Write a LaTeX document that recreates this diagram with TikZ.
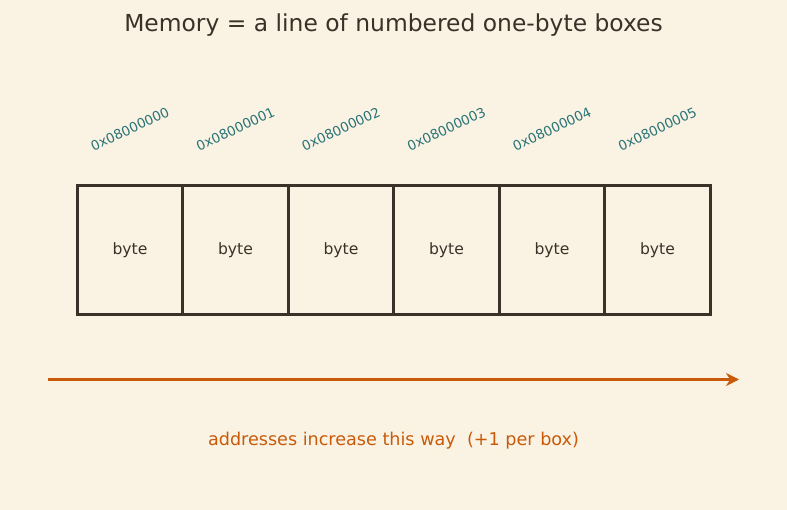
\documentclass[tikz,border=0pt]{standalone}
\usepackage{xcolor}
\usepackage{fontspec}
\setmainfont{DejaVu Sans}
\usetikzlibrary{positioning,arrows.meta}

\definecolor{paper}{HTML}{FAF3E3}
\definecolor{ink}{HTML}{3A3129}
\definecolor{addr}{HTML}{2A7477}
\definecolor{flow}{HTML}{C85A0A}

\tikzset{
    bytebox/.style={draw=ink, line width=3pt, minimum width=105.5pt, minimum height=129pt,
        outer sep=0pt, inner sep=0pt, text=ink, font=\fontsize{15.6}{18}\selectfont},
    addrlabel/.style={text=addr, rotate=25, font=\fontsize{13.4}{16}\selectfont},
}

\begin{document}
\begin{tikzpicture}[x=1pt, y=-1pt]
    % Background and frame
    \fill[paper] (0,0) rectangle (787,510);
    \useasboundingbox (0,0) rectangle (787,510);

    % Title
    \node[text=ink, font=\fontsize{23.4}{27}\selectfont] (title) at (393.5,25) {Memory = a line of numbered one-byte boxes};

    % Memory cells
    \node[bytebox] (B0) at (130,250.5) {byte};
    \node[bytebox, right=0pt of B0] (B1) {byte};
    \node[bytebox, right=0pt of B1] (B2) {byte};
    \node[bytebox, right=0pt of B2] (B3) {byte};
    \node[bytebox, right=0pt of B3] (B4) {byte};
    \node[bytebox, right=0pt of B4] (B5) {byte};

    % Addresses above the cells
    \node[addrlabel] (A0) at (130,129) {0x08000000};
    \node[addrlabel] (A1) at (235.5,129) {0x08000001};
    \node[addrlabel] (A2) at (341,129) {0x08000002};
    \node[addrlabel] (A3) at (446.5,129) {0x08000003};
    \node[addrlabel] (A4) at (552,129) {0x08000004};
    \node[addrlabel] (A5) at (657.5,129) {0x08000005};

    % Direction arrow
    \coordinate (ArrowStart) at (48,379.5);
    \coordinate (ArrowEnd) at (739,379.5);
    \draw[flow, line width=3.5pt, -{Stealth[length=13pt, width=13pt]}] (ArrowStart) -- (ArrowEnd);

    % Caption
    \node[text=flow, font=\fontsize{17.6}{21}\selectfont] (caption) at (393.5,440.5) {addresses increase this way \ (+1 per box)};
\end{tikzpicture}
\end{document}
